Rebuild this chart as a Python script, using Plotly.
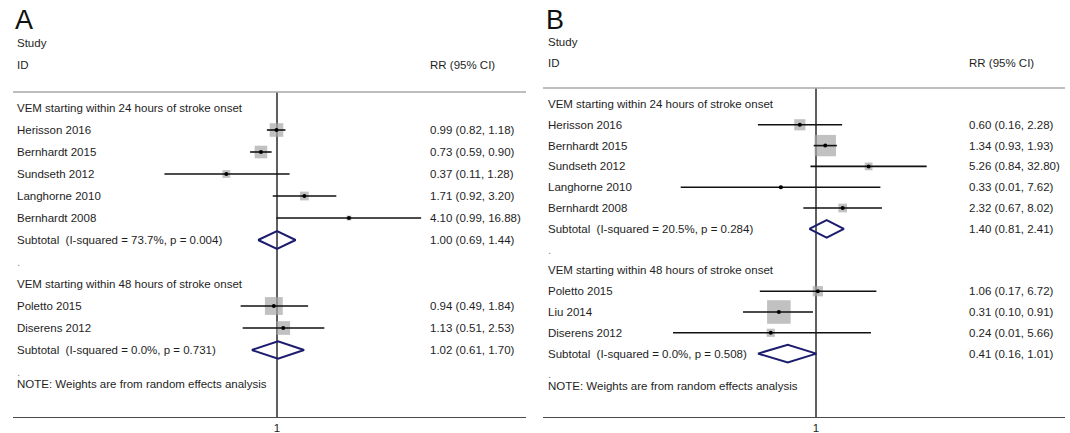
import math
import plotly.graph_objects as go

W, H = 1070, 433

# ---------------- Panel A ----------------
A_group_24 = "VEM starting within 24 hours of stroke onset"
A_study_24 = ["Herisson 2016", "Bernhardt 2015", "Sundseth 2012", "Langhorne 2010", "Bernhardt 2008"]
A_rr_24 = [0.99, 0.73, 0.37, 1.71, 4.10]
A_lo_24 = [0.82, 0.59, 0.11, 0.92, 0.99]
A_hi_24 = [1.18, 0.90, 1.28, 3.20, 16.88]
A_wt_24 = [36.6, 31.6, 12.0, 15.1, 4.7]
A_sub_24 = [1.00, 0.69, 1.44]
A_het_24 = "I-squared = 73.7%, p = 0.004"

A_group_48 = "VEM starting within 48 hours of stroke onset"
A_study_48 = ["Poletto 2015", "Diserens 2012"]
A_rr_48 = [0.94, 1.13]
A_lo_48 = [0.49, 0.51]
A_hi_48 = [1.84, 2.53]
A_wt_48 = [63.0, 37.0]
A_sub_48 = [1.02, 0.61, 1.70]
A_het_48 = "I-squared = 0.0%, p = 0.731"

# ---------------- Panel B ----------------
B_group_24 = "VEM starting within 24 hours of stroke onset"
B_study_24 = ["Herisson 2016", "Bernhardt 2015", "Sundseth 2012", "Langhorne 2010", "Bernhardt 2008"]
B_rr_24 = [0.60, 1.34, 5.26, 0.33, 2.32]
B_lo_24 = [0.16, 0.93, 0.84, 0.014, 0.67]
B_hi_24 = [2.28, 1.93, 32.80, 7.62, 8.02]
B_wt_24 = [17.1, 62.6, 8.3, 1.6, 10.4]
B_sub_24 = [1.40, 0.81, 2.41]
B_het_24 = "I-squared = 20.5%, p = 0.284"

B_group_48 = "VEM starting within 48 hours of stroke onset"
B_study_48 = ["Poletto 2015", "Liu 2014", "Diserens 2012"]
B_rr_48 = [1.06, 0.31, 0.24]
B_lo_48 = [0.17, 0.10, 0.011]
B_hi_48 = [6.72, 0.91, 5.66]
B_wt_48 = [14.5, 76.3, 9.2]
B_sub_48 = [0.41, 0.16, 1.01]
B_het_48 = "I-squared = 0.0%, p = 0.508"

NOTE = "NOTE: Weights are from random effects analysis"

FONT = "Liberation Sans, Arial, sans-serif"
FS = 11.5
TXT = "#1e1e1e"
BOX = "#a6a6a6"
DIAMOND = "#1c1c6e"

panels = [
    dict(letter="A", xa="x", ya="y",
         groups=[(A_group_24, A_study_24, A_rr_24, A_lo_24, A_hi_24, A_wt_24, A_sub_24, A_het_24),
                 (A_group_48, A_study_48, A_rr_48, A_lo_48, A_hi_48, A_wt_48, A_sub_48, A_het_48)],
         letter_x=13, row0=108, step=22.0, top=92, left=13, right=526,
         center=277, ppl=51.0, label_x=15, value_x=428,
         study_y=43, id_y=65, box_k=2.25),
    dict(letter="B", xa="x2", ya="y2",
         groups=[(B_group_24, B_study_24, B_rr_24, B_lo_24, B_hi_24, B_wt_24, B_sub_24, B_het_24),
                 (B_group_48, B_study_48, B_rr_48, B_lo_48, B_hi_48, B_wt_48, B_sub_48, B_het_48)],
         letter_x=544, row0=104, step=20.8, top=88, left=543, right=1065,
         center=816, ppl=31.7, label_x=546, value_x=967,
         study_y=42, id_y=63, box_k=2.7),
]

BOTTOM = 417  # pixel row of the x axis line


def px(x):
    return x / W


def py(y):
    return 1 - y / H


def fmt(rr, lo, hi):
    return f"{rr:.2f} ({lo:.2f}, {hi:.2f})"


fig = go.Figure()
annotations = []
shapes = []
layout_axes = {}

for i, p in enumerate(panels):
    xa, ya = p["xa"], p["ya"]
    suffix = "" if i == 0 else "2"
    dlog = p["ppl"] * math.log(10)
    xr = [(p["left"] - p["center"]) / dlog, (p["right"] - p["center"]) / dlog]
    r_top = -p["row0"] / p["step"]
    r_bot = r_top + BOTTOM / p["step"]

    layout_axes["xaxis" + suffix] = dict(
        type="log", range=xr, domain=[px(p["left"]), px(p["right"])],
        anchor=ya, showline=True, linecolor="#4a4a4a", linewidth=1.3,
        showgrid=False, zeroline=False, ticks="", tickvals=[1], ticktext=["1"],
        tickfont=dict(family=FONT, size=FS, color=TXT), automargin=False,
        fixedrange=True)
    layout_axes["yaxis" + suffix] = dict(
        range=[r_bot, r_top], domain=[1 - BOTTOM / H, 1], anchor=xa,
        visible=False, showgrid=False, zeroline=False, automargin=False,
        fixedrange=True)

    # row layout
    rows_lbl, rows_val = [], []
    s_rr, s_lo, s_hi, s_w, s_y = [], [], [], [], []
    diamonds = []
    row = 0
    for (gname, studies, rr, lo, hi, wt, sub, het) in p["groups"]:
        rows_lbl.append((row, gname))
        row += 1
        for j in range(len(studies)):
            rows_lbl.append((row, studies[j]))
            rows_val.append((row, fmt(rr[j], lo[j], hi[j])))
            s_rr.append(rr[j]); s_lo.append(lo[j]); s_hi.append(hi[j])
            s_w.append(wt[j]); s_y.append(row)
            row += 1
        rows_lbl.append((row, "Subtotal\u00a0 (" + het + ")"))
        rows_val.append((row, fmt(*sub)))
        diamonds.append((row, sub))
        row += 1
        rows_lbl.append((row, "."))
        row += 1
    note_row = row - 1 + 0.55

    # study boxes (area proportional to weight)
    fig.add_trace(go.Scatter(
        x=s_rr, y=s_y, xaxis=xa, yaxis=ya, mode="markers",
        marker=dict(symbol="square", color=BOX,
                    size=[p["box_k"] * math.sqrt(w) for w in s_w],
                    line=dict(width=0)),
        hoverinfo="skip", showlegend=False))

    # confidence intervals
    cx, cy = [], []
    for lo_, hi_, y_ in zip(s_lo, s_hi, s_y):
        cx += [lo_, hi_, None]
        cy += [y_, y_, None]
    fig.add_trace(go.Scatter(
        x=cx, y=cy, xaxis=xa, yaxis=ya, mode="lines",
        line=dict(color="#111111", width=1.6),
        hoverinfo="skip", showlegend=False))

    # point estimates
    fig.add_trace(go.Scatter(
        x=s_rr, y=s_y, xaxis=xa, yaxis=ya, mode="markers",
        marker=dict(symbol="circle", color="#000000", size=4),
        hoverinfo="skip", showlegend=False))

    # pooled estimates as diamonds
    half = 8.8 / p["step"]
    for (y_, (m, lo_, hi_)) in diamonds:
        fig.add_trace(go.Scatter(
            x=[lo_, m, hi_, m, lo_], y=[y_, y_ - half, y_, y_ + half, y_],
            xaxis=xa, yaxis=ya, mode="lines",
            line=dict(color=DIAMOND, width=2),
            hoverinfo="skip", showlegend=False))

    # reference line at RR = 1 and the header rule
    shapes.append(dict(type="line", xref=xa, yref="paper", x0=1, x1=1,
                       y0=py(BOTTOM), y1=py(p["top"]),
                       line=dict(color="#2a2a2a", width=1.5), layer="below"))
    shapes.append(dict(type="line", xref=xa + " domain", yref="paper", x0=0, x1=1,
                       y0=py(p["top"]), y1=py(p["top"]),
                       line=dict(color="#a8a8a8", width=1.3), layer="below"))

    # texts
    def add_text(x, y, t, yref="paper", size=FS, color=TXT):
        annotations.append(dict(x=x, y=y, xref="paper", yref=yref, text=t,
                                showarrow=False, xanchor="left", yanchor="middle",
                                font=dict(family=FONT, size=size, color=color)))

    add_text(px(p["letter_x"]), py(20), p["letter"], size=27, color="#111111")
    add_text(px(p["label_x"]), py(p["study_y"]), "Study")
    add_text(px(p["label_x"]), py(p["id_y"]), "ID")
    add_text(px(p["value_x"]), py(p["id_y"]), "RR (95% CI)")
    for (r, t) in rows_lbl:
        add_text(px(p["label_x"]), r, t, yref=ya,
                 color="#8a8a8a" if t == "." else TXT)
    for (r, t) in rows_val:
        add_text(px(p["value_x"]), r, t, yref=ya)
    add_text(px(p["label_x"]), note_row, NOTE, yref=ya)

fig.update_layout(
    width=W, height=H, margin=dict(l=0, r=0, t=0, b=0),
    paper_bgcolor="white", plot_bgcolor="white",
    showlegend=False, annotations=annotations, shapes=shapes,
    **layout_axes)

fig.write_html("out.html")
